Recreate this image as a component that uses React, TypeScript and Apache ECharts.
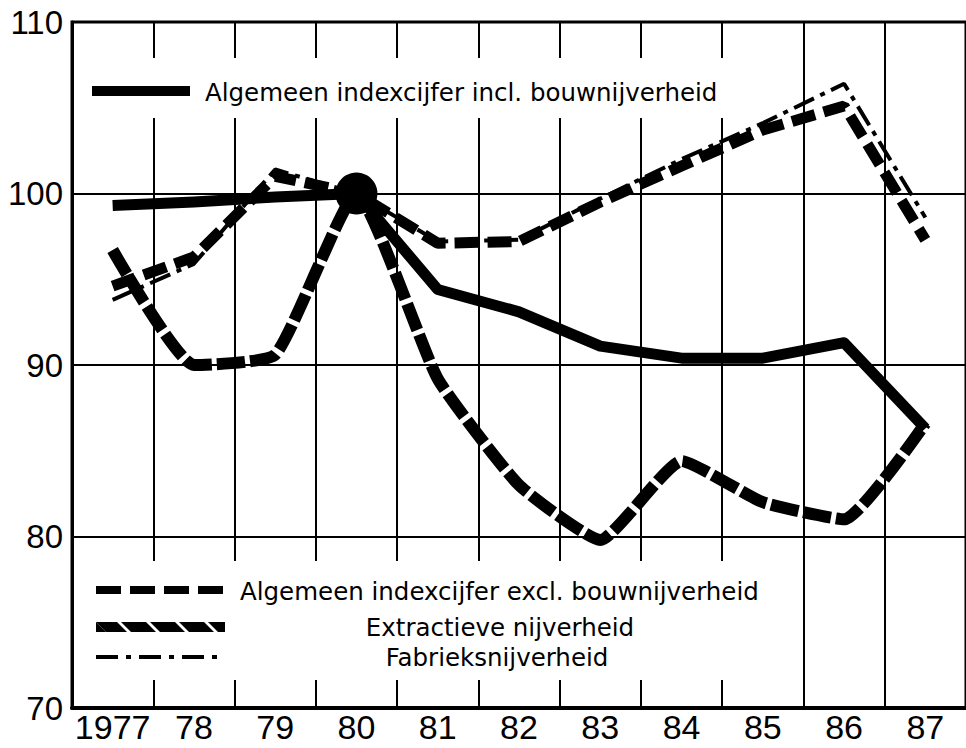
import React, { useEffect, useRef } from "react";
import * as echarts from "echarts";

const years = ["1977", "78", "79", "80", "81", "82", "83", "84", "85", "86", "87"];
const yTicks = [70, 80, 90, 100, 110];

const seriesNames = [
  "Algemeen indexcijfer incl. bouwnijverheid",
  "Algemeen indexcijfer excl. bouwnijverheid",
  "Extractieve nijverheid",
  "Fabrieksnijverheid",
];

const inclBouw = [99.3, 99.5, 99.8, 100, 94.4, 93.1, 91.1, 90.4, 90.4, 91.3, 86.3];
const exclBouw = [94.6, 96.3, 101.0, 100, 97.1, 97.2, 99.5, 101.6, 103.7, 105.1, 97.3];
const extractief = [96.7, 90.0, 90.6, 100, 89.2, 83.0, 79.8, 84.4, 82.0, 81.0, 86.6];
const fabrieks = [93.8, 95.9, 101.4, 100, 97.2, 97.3, 99.7, 102.0, 104.1, 106.4, 98.6];

const baseYear = "80";
const baseValue = 100;

const FONT = "'Liberation Sans', Arial, Helvetica, sans-serif";
const LEGEND_FONT = "'DejaVu Sans', Verdana, sans-serif";

export default function App() {
  const ref = useRef<HTMLDivElement>(null);

  useEffect(() => {
    if (!ref.current) return;
    const chart = echarts.init(ref.current, undefined, { renderer: "svg" });

    const legendText = (x: number, y: number, text: string, align: string) => ({
      type: "text",
      x,
      y,
      z: 11,
      style: {
        text,
        fill: "#000",
        font: `24.5px ${LEGEND_FONT}`,
        align,
        verticalAlign: "middle",
      },
    });

    const hatch = (x0: number, x1: number) => ({
      type: "polygon",
      z: 11,
      shape: { points: [[x0, 622], [x1, 622], [x1 + 10, 632], [x0 + 10, 632]] },
      style: { fill: "#000" },
    });

    const option: any = {
      animation: false,
      backgroundColor: "#fff",
      grid: {
        left: 72,
        top: 22,
        width: 902,
        bottom: 40,
        show: true,
        borderColor: "#000",
        borderWidth: 3,
        backgroundColor: "transparent",
      },
      xAxis: {
        type: "category",
        data: years,
        boundaryGap: true,
        axisLine: { show: true, lineStyle: { color: "#000", width: 4 } },
        axisTick: { show: false },
        axisLabel: {
          color: "#000",
          fontSize: 34,
          lineHeight: 32,
          fontFamily: FONT,
          margin: 3,
          interval: 0,
        },
        splitLine: { show: true, lineStyle: { color: "#000", width: 2 } },
      },
      yAxis: {
        type: "value",
        min: yTicks[0],
        max: yTicks[yTicks.length - 1],
        interval: 10,
        axisLine: { show: true, lineStyle: { color: "#000", width: 3 } },
        axisTick: { show: false },
        axisLabel: {
          color: "#000",
          fontSize: 33,
          fontFamily: FONT,
          margin: 9,
        },
        splitLine: { show: true, lineStyle: { color: "#000", width: 2 } },
      },
      series: [
        {
          name: seriesNames[3],
          type: "line",
          data: fabrieks,
          symbol: "none",
          z: 3,
          lineStyle: { color: "#000", width: 4, type: [22, 7, 5, 7], cap: "butt" },
        },
        {
          name: seriesNames[1],
          type: "line",
          data: exclBouw,
          symbol: "none",
          z: 4,
          lineStyle: { color: "#000", width: 11, type: [24, 9], cap: "butt" },
        },
        {
          name: seriesNames[2],
          type: "line",
          data: extractief,
          symbol: "none",
          z: 5,
          smooth: 0.15,
          lineStyle: { color: "#000", width: 12, type: [28, 5], cap: "butt" },
        },
        {
          name: seriesNames[0],
          type: "line",
          data: inclBouw,
          symbol: "none",
          z: 6,
          lineStyle: { color: "#000", width: 11, join: "round" },
        },
        {
          type: "scatter",
          data: [[baseYear, baseValue]],
          symbol: "circle",
          symbolSize: 42,
          z: 7,
          itemStyle: { color: "#000", opacity: 1 },
        },
      ],
      graphic: [
        {
          type: "rect",
          z: 10,
          shape: { x: 74, y: 58, width: 690, height: 60 },
          style: { fill: "#fff" },
        },
        {
          type: "line",
          z: 11,
          shape: { x1: 92, y1: 91, x2: 190, y2: 91 },
          style: { stroke: "#000", lineWidth: 10 },
        },
        legendText(205, 92, seriesNames[0], "left"),
        {
          type: "rect",
          z: 10,
          shape: { x: 74, y: 561, width: 708, height: 119 },
          style: { fill: "#fff" },
        },
        {
          type: "line",
          z: 11,
          shape: { x1: 96, y1: 590, x2: 225, y2: 590 },
          style: { stroke: "#000", lineWidth: 8, lineDash: [25, 9] },
        },
        legendText(240, 591, seriesNames[1], "left"),
        hatch(96, 117),
        hatch(121, 146),
        hatch(150, 175),
        hatch(179, 204),
        {
          type: "polygon",
          z: 11,
          shape: { points: [[208, 622], [225, 622], [225, 632], [218, 632]] },
          style: { fill: "#000" },
        },
        {
          type: "polygon",
          z: 11,
          shape: { points: [[96, 622], [106, 632], [96, 632]] },
          style: { fill: "#000" },
        },
        legendText(500, 627, seriesNames[2], "center"),
        {
          type: "line",
          z: 11,
          shape: { x1: 96, y1: 657, x2: 225, y2: 657 },
          style: { stroke: "#000", lineWidth: 4, lineDash: [22, 8, 5, 8] },
        },
        legendText(497, 657, seriesNames[3], "center"),
      ],
    };

    chart.setOption(option);
    return () => chart.dispose();
  }, []);

  return (
    <div
      ref={ref}
      style={{ position: "absolute", left: 0, top: 0, width: 966, height: 748, background: "#fff" }}
    />
  );
}
